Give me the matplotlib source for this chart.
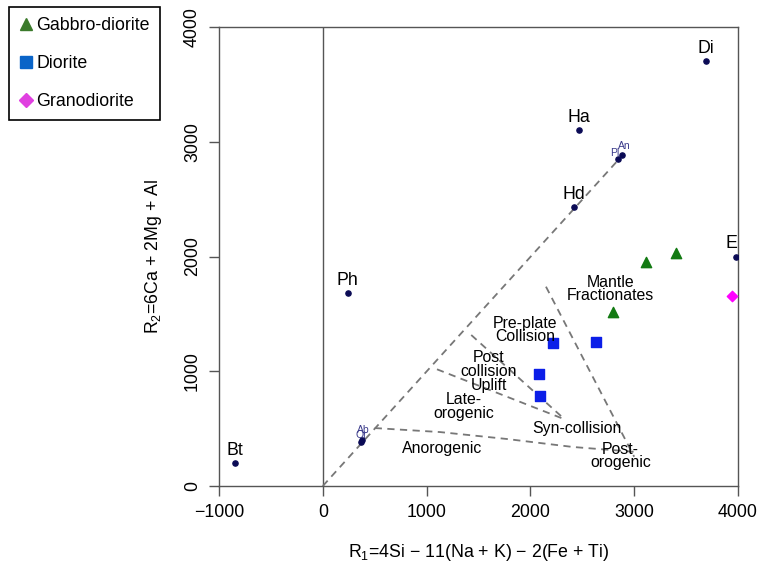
import numpy as np
import matplotlib
matplotlib.use("Agg")
import matplotlib.pyplot as plt
from matplotlib.lines import Line2D

plt.rcParams['font.family'] = ['Liberation Sans', 'DejaVu Sans']
plt.rcParams['mathtext.default'] = 'regular'

# end-member minerals
min_names = ["Bt", "Ph", "Hd", "Ha", "Di", "E"]
min_x = [-850, 240, 2420, 2470, 3690, 3980]
min_y = [200, 1680, 2430, 3100, 3700, 2000]
# small, overlapping end members
an_x = [2880, 2840]
an_y = [2885, 2850]
ab_x = [380, 370]
ab_y = [400, 385]

# samples
gabbro_x = [3110, 3400, 2800]
gabbro_y = [1950, 2030, 1515]
diorite_x = [2220, 2630, 2080, 2090]
diorite_y = [1250, 1255, 980, 785]
grano_x = [3940]
grano_y = [1655]

# field boundaries (dashed)
bnd_lines = [
    ([0, 2840], [0, 2835]),
    ([500, 1130, 1770, 2410, 3030], [505, 470, 410, 340, 296]),
    ([2150, 3000], [1737, 255]),
    ([1100, 2330], [1017, 581]),
    ([1430, 2330], [1316, 581]),
]

# field names
fields = ["Mantle\nFractionates", "Pre-plate\nCollision", "Post\ncollision\nUplift",
          "Late-\norogenic", "Syn-collision", "Anorogenic", "Post-\norogenic"]
field_x = [2775, 1950, 1600, 1360, 2450, 1150, 2870]
field_y = [1716, 1360, 1000, 690, 505, 330, 262]

fs = 12.8
fig = plt.figure(figsize=(7.69, 5.66), dpi=100)
ax = fig.add_axes([219/769, 1-486/566, (738-219)/769, (486-27)/566])
gray = "#555555"

for bx, by in bnd_lines:
    ax.plot(bx, by, ls=(0, (4, 3)), color="#777777", lw=1.3, zorder=2)
ax.axvline(0, color=gray, lw=1, zorder=1)

ax.scatter(min_x, min_y, s=14, color="#0a0a55", zorder=4)
ax.scatter(an_x, an_y, s=14, color="#0a0a55", zorder=4)
ax.scatter(ab_x, ab_y, s=14, color="#0a0a55", zorder=4)
for n, x, y in zip(min_names, min_x, min_y):
    ax.annotate(n, (x, y), xytext=(-3 if n == "E" else 0, 3), textcoords="offset points",
                ha="center", va="bottom", fontsize=fs, clip_on=False)
ax.annotate("An", (an_x[0], an_y[0]), xytext=(2, 3), textcoords="offset points",
            ha="center", va="bottom", fontsize=7.5, color="#3a3a8a")
ax.annotate("Pl", (an_x[1], an_y[1]), xytext=(-2, 1), textcoords="offset points",
            ha="center", va="bottom", fontsize=7.5, color="#3a3a8a")
ax.annotate("Ab", (ab_x[0], ab_y[0]), xytext=(1, 4), textcoords="offset points",
            ha="center", va="bottom", fontsize=7.5, color="#3a3a8a")
ax.annotate("Or", (ab_x[1], ab_y[1]), xytext=(0, 1), textcoords="offset points",
            ha="center", va="bottom", fontsize=7.5, color="#3a3a8a")

ax.scatter(gabbro_x, gabbro_y, marker="^", s=55, color="#137a13", zorder=5)
ax.scatter(diorite_x, diorite_y, marker="s", s=45, color="#0b1ee8", zorder=5)
ax.scatter(grano_x, grano_y, marker="D", s=28, color="#ff00ff", zorder=5)

for t, x, y in zip(fields, field_x, field_y):
    ax.text(x, y, t, ha="center", va="center", fontsize=11.4, linespacing=0.9, zorder=6)

ax.set_xlim(-1000, 4000)
ax.set_ylim(0, 4000)
ax.set_xticks([-1000, 0, 1000, 2000, 3000, 4000])
ax.set_yticks([0, 1000, 2000, 3000, 4000])
ax.set_xticklabels(["\u22121000", "0", "1000", "2000", "3000", "4000"])
for lab in ax.get_yticklabels():
    lab.set_rotation(90)
    lab.set_va("center")
ax.tick_params(direction="out", length=7, width=1, color=gray, labelsize=fs, pad=6)
for sp in ax.spines.values():
    sp.set_color(gray)
    sp.set_linewidth(1)
ax.set_xlabel("R$_1$=4Si \u2212 11(Na + K) \u2212 2(Fe + Ti)", fontsize=fs, labelpad=15)
ax.set_ylabel("R$_2$=6Ca + 2Mg + Al", fontsize=fs, labelpad=14)

handles = [
    Line2D([], [], marker="^", ls="none", color="#3b7a2b", markersize=9),
    Line2D([], [], marker="s", ls="none", color="#0a64c8", markersize=8),
    Line2D([], [], marker="D", ls="none", color="#e040e0", markersize=7),
]
leg = fig.legend(handles, ["Gabbro-diorite", "Diorite", "Granodiorite"],
                 loc="upper left", bbox_to_anchor=(9/769, 1-7/566), borderaxespad=0,
                 fontsize=fs, labelspacing=1.2, handlelength=0.8, handletextpad=0.2,
                 borderpad=0.55, fancybox=False, framealpha=1)
leg.get_frame().set_edgecolor("black")
leg.get_frame().set_linewidth(1.2)

fig.savefig("out.png", dpi=100)
